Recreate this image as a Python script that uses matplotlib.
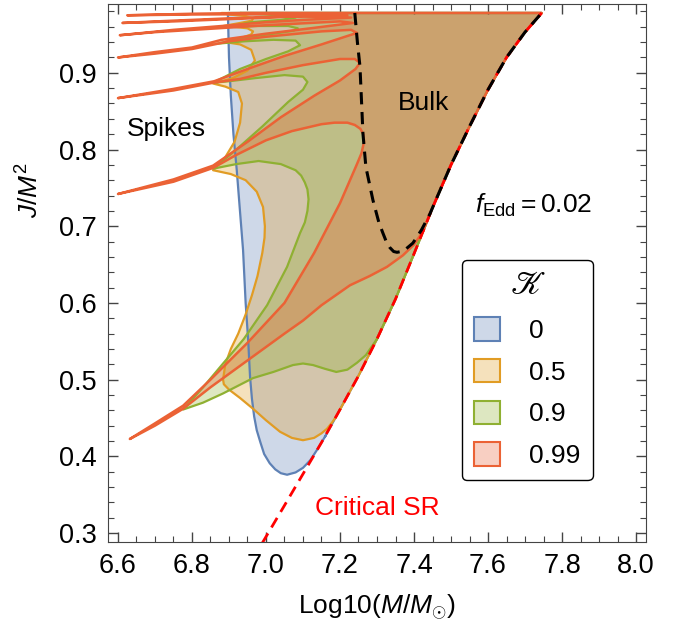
import matplotlib
matplotlib.use('Agg')
import matplotlib.pyplot as plt
from matplotlib.patches import Patch
from matplotlib.ticker import MultipleLocator, FormatStrFormatter

plt.rcParams['font.family'] = ['Liberation Sans', 'DejaVu Sans']
plt.rcParams['mathtext.fontset'] = 'custom'
plt.rcParams['mathtext.rm'] = 'Liberation Sans'
plt.rcParams['mathtext.it'] = 'Liberation Sans:italic'

# colours of the four spin-parameter regions
blue, orange, green, red = '#5E81B5', '#E19C24', '#8FB032', '#EB6235'
top_j = 0.978

# critical superradiance line (red dashed)
crit_x = [6.99, 7.05, 7.1, 7.15, 7.2, 7.25, 7.3, 7.35, 7.4, 7.45, 7.5, 7.55, 7.6, 7.65, 7.7, 7.745]
crit_y = [0.287, 0.336, 0.377, 0.418, 0.461, 0.505, 0.553, 0.605, 0.664, 0.724, 0.780, 0.830, 0.878, 0.920, 0.953, 0.978]

# bulk boundary (black dashed), joins the critical line at the right
bulk_x = [7.24, 7.247, 7.254, 7.262, 7.27, 7.289, 7.305, 7.316, 7.325, 7.335, 7.345, 7.354, 7.365,
          7.375, 7.397, 7.42, 7.443]
bulk_y = [0.978, 0.94, 0.908, 0.821, 0.777, 0.734, 0.705, 0.691, 0.68, 0.672, 0.667, 0.666, 0.667,
          0.669, 0.678, 0.695, 0.716]

# left boundaries of each region, from the critical line up to the top
k0_x = [7.16, 7.14, 7.12, 7.10, 7.08, 7.057, 7.04, 7.025, 7.01, 6.995, 6.985, 6.975, 6.968, 6.962,
        6.957, 6.952, 6.945, 6.938, 6.928, 6.921, 6.912, 6.905, 6.9, 6.897]
k0_y = [0.426, 0.41, 0.395, 0.385, 0.379, 0.376, 0.378, 0.383, 0.391, 0.403, 0.418, 0.434, 0.452, 0.475,
        0.503, 0.55, 0.60, 0.669, 0.73, 0.773, 0.82, 0.87, 0.92, 0.978]

k05_x = [7.2, 7.19, 7.18, 7.165, 7.15, 7.13, 7.1, 7.07, 7.038, 7.0, 6.965, 6.93, 6.9, 6.886, 6.884,
         6.89, 6.905, 6.925, 6.945, 6.962, 6.977, 6.99, 6.996, 6.997, 6.992, 6.975, 6.945, 6.905, 6.857,
         6.89, 6.915, 6.93, 6.935, 6.925, 6.89, 6.857,
         6.91, 6.95, 6.97, 6.96, 6.93, 6.89,
         6.93, 6.96, 6.965, 6.95, 6.91, 6.885,
         6.93, 6.962, 6.965, 6.945, 6.9, 6.88]
k05_y = [0.461, 0.452, 0.445, 0.436, 0.43, 0.424, 0.421, 0.424, 0.432, 0.447, 0.462, 0.476, 0.487, 0.494, 0.50,
         0.52, 0.54, 0.56, 0.585, 0.61, 0.635, 0.665, 0.685, 0.70, 0.725, 0.745, 0.76, 0.768, 0.773,
         0.79, 0.81, 0.835, 0.86, 0.875, 0.882, 0.886,
         0.893, 0.903, 0.916, 0.93, 0.937, 0.94,
         0.945, 0.95, 0.954, 0.958, 0.96, 0.961,
         0.965, 0.968, 0.971, 0.974, 0.976, 0.978]

k09_x = [7.3, 7.27, 7.246, 7.22, 7.19, 7.16, 7.127, 7.1, 7.073, 7.02, 6.965, 6.884, 6.83, 6.776,
         6.83, 6.884, 6.94, 7.003, 7.057, 7.092, 7.105, 7.112, 7.115, 7.112, 7.105, 7.095, 7.08, 7.04, 6.98, 6.92, 6.857,
         6.92, 6.99, 7.06, 7.1, 7.112, 7.1, 7.05, 6.97, 6.9, 6.857,
         6.93, 7.0, 7.06, 7.092, 7.08, 7.02, 6.94, 6.87,
         6.94, 7.02, 7.075, 7.086, 7.06, 6.98, 6.90,
         6.96, 7.04, 7.08, 7.06, 7.0, 6.93]
k09_y = [0.553, 0.532, 0.522, 0.513, 0.510, 0.514, 0.519, 0.521, 0.519, 0.51, 0.502, 0.482, 0.47, 0.461,
         0.49, 0.521, 0.553, 0.597, 0.647, 0.691, 0.705, 0.72, 0.735, 0.748, 0.757, 0.766, 0.773, 0.781, 0.785, 0.781, 0.775,
         0.80, 0.83, 0.862, 0.878, 0.888, 0.895, 0.897, 0.893, 0.889, 0.887,
         0.905, 0.918, 0.928, 0.936, 0.942, 0.943, 0.941, 0.938,
         0.946, 0.951, 0.955, 0.958, 0.961, 0.961, 0.96,
         0.966, 0.969, 0.972, 0.974, 0.976, 0.978]

k099_x = [7.424, 7.40, 7.37, 7.327, 7.28, 7.227, 7.15, 7.1, 7.05, 6.95, 6.85, 6.776, 6.70, 6.632,
          6.70, 6.776, 6.85, 6.95, 7.05, 7.13, 7.2, 7.245, 7.258, 7.265, 7.263, 7.255, 7.24, 7.22, 7.185, 7.15,
          7.07, 7.0, 6.92, 6.857, 6.75, 6.6,
          6.75, 6.857, 6.95, 7.04, 7.13, 7.2, 7.242, 7.254, 7.24, 7.2, 7.1, 7.0, 6.93, 6.857, 6.75, 6.6,
          6.75, 6.86, 6.95, 7.05, 7.15, 7.22, 7.246, 7.23, 7.15, 7.0, 6.9, 6.8, 6.7, 6.6,
          6.7, 6.8, 6.88, 7.0, 7.12, 7.235, 7.2, 7.0, 6.87, 6.7, 6.605,
          6.75, 6.88, 7.0, 7.1, 7.23, 7.1, 6.9, 6.75, 6.612,
          6.75, 6.9, 7.05, 7.22, 7.0, 6.8, 6.625,
          6.8, 6.95]
k099_y = [0.693, 0.676, 0.662, 0.647, 0.635, 0.623, 0.597, 0.577, 0.56, 0.525, 0.49, 0.462, 0.44, 0.4226,
          0.443, 0.466, 0.50, 0.548, 0.6, 0.665, 0.73, 0.78, 0.795, 0.81, 0.82, 0.827, 0.832, 0.835, 0.835, 0.833,
          0.824, 0.812, 0.793, 0.776, 0.758, 0.742,
          0.761, 0.779, 0.81, 0.842, 0.87, 0.89, 0.905, 0.913, 0.918, 0.918, 0.91, 0.9, 0.892, 0.887, 0.877, 0.867,
          0.879, 0.889, 0.905, 0.922, 0.937, 0.948, 0.952, 0.956, 0.954, 0.947, 0.941, 0.931, 0.925, 0.92,
          0.927, 0.933, 0.943, 0.951, 0.958, 0.965, 0.967, 0.962, 0.958, 0.953, 0.949,
          0.956, 0.961, 0.966, 0.969, 0.972, 0.974, 0.971, 0.968, 0.965,
          0.967, 0.970, 0.973, 0.975, 0.9765, 0.976, 0.975,
          0.977, 0.978]

regions = [('0', blue, k0_x, k0_y, 1.6),
           ('0.5', orange, k05_x, k05_y, 1.6),
           ('0.9', green, k09_x, k09_y, 1.6),
           ('0.99', red, k099_x, k099_y, 1.8)]


def outline(xs, ys):
    # left boundary, then along the top, then back down the critical line
    px = list(xs) + [crit_x[-1]]
    py = list(ys) + [top_j]
    for cx, cy in zip(crit_x[::-1][1:], crit_y[::-1][1:]):
        if cx > xs[0]:
            px.append(cx)
            py.append(cy)
    px.append(xs[0])
    py.append(ys[0])
    return px, py


fig = plt.figure(figsize=(6.81, 6.35), dpi=100)
ax = fig.add_axes([108 / 681, 1 - 542 / 635, 538 / 681, 538 / 635])

handles = []
for label, col, xs, ys, lw in regions:
    px, py = outline(xs, ys)
    ax.fill(px, py, facecolor=col, alpha=0.3, edgecolor='none')
    ax.plot(px, py, color=col, lw=lw, solid_joinstyle='round')
    handles.append(Patch(facecolor=matplotlib.colors.to_rgba(col, 0.3), edgecolor=col, lw=1.5, label=label))

bx = bulk_x + [x for x in crit_x if x > bulk_x[-1]]
by = bulk_y + [y for x, y in zip(crit_x, crit_y) if x > bulk_x[-1]]
ax.plot(crit_x, crit_y, color='#FF0000', lw=2, dashes=(4, 2.5))
ax.plot(bx, by, color='black', lw=2.2, dashes=(4, 2.5))

ax.text(6.732, 0.8176, 'Spikes', fontsize=19, ha='center', va='baseline')
ax.text(7.427, 0.8515, 'Bulk', fontsize=19, ha='center', va='baseline')
ax.text(7.565, 0.717, r'$f_{\mathrm{Edd}}=0.02$', fontsize=19, ha='left', va='baseline')
ax.text(7.30, 0.3235, 'Critical SR', fontsize=19, ha='center', va='baseline', color='#FF0000')

leg = ax.legend(handles=handles, loc='upper left', bbox_to_anchor=(0.658, 0.524), borderaxespad=0,
                fontsize=19, handlelength=1.0, handleheight=1.0, handletextpad=1.1,
                labelspacing=0.6, borderpad=0.45, fancybox=True, framealpha=1,
                title='\U0001D4A6', title_fontproperties={'family': 'STIXGeneral', 'size': 24})
leg.get_frame().set_edgecolor('black')
leg.get_frame().set_linewidth(1.0)

ax.set_xlim(6.573, 8.027)
ax.set_ylim(0.2883, 0.9897)
ax.xaxis.set_major_locator(MultipleLocator(0.2))
ax.xaxis.set_minor_locator(MultipleLocator(0.05))
ax.yaxis.set_major_locator(MultipleLocator(0.1))
ax.yaxis.set_minor_locator(MultipleLocator(0.02))
ax.xaxis.set_major_formatter(FormatStrFormatter('%.1f'))
ax.yaxis.set_major_formatter(FormatStrFormatter('%.1f'))
ax.tick_params(which='both', direction='in', top=True, right=True, color='#444444',
               labelsize=19.5, pad=8)
ax.tick_params(which='major', length=7, width=1)
ax.tick_params(which='minor', length=4, width=0.8)
for sp in ax.spines.values():
    sp.set_color('#444444')

ax.set_xlabel(r'Log10($M/M_{\odot}$)', fontsize=19, labelpad=10)
ax.set_ylabel(r'$J/M^2$', fontsize=19)
ax.yaxis.set_label_coords(-0.12, 0.654)

fig.savefig('out.png', dpi=100)
